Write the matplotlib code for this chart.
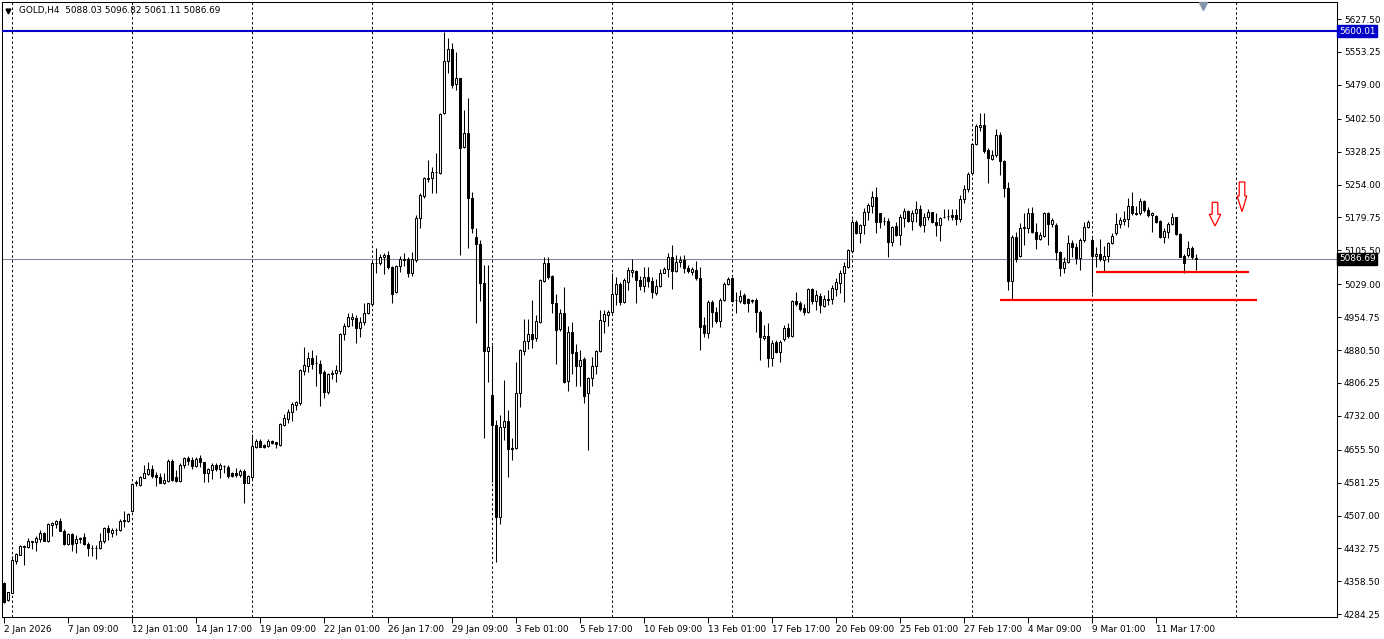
import matplotlib
matplotlib.use('Agg')
import matplotlib.pyplot as plt
import matplotlib.transforms as mtransforms
from matplotlib.patches import Polygon

# GOLD H4 candles
opens = [
    4354.0, 4315.7, 4332.9, 4405.2, 4418.7, 4436.8, 4436.8, 4446.5, 4448.0, 4454.8,
    4466.9, 4450.3, 4486.4, 4488.7, 4494.7, 4472.9, 4442.8, 4465.3, 4444.3, 4453.3,
    4457.8, 4442.8, 4433.8, 4433.8, 4433.0, 4448.8, 4478.1, 4468.4, 4473.6, 4473.6,
    4493.9, 4495.4, 4518.0, 4579.6, 4575.9, 4592.4, 4599.9, 4611.2, 4598.5, 4593.2,
    4581.2, 4585.7, 4630.8, 4594.7, 4585.7, 4621.0, 4636.1, 4632.3, 4618.8, 4636.1,
    4627.0, 4602.2, 4609.7, 4621.8, 4612.0, 4618.0, 4615.8, 4602.2, 4603.7, 4598.5,
    4608.2, 4581.2, 4594.8, 4661.0, 4676.0, 4666.2, 4664.7, 4676.0, 4672.2, 4666.2,
    4712.1, 4725.7, 4739.9, 4757.2, 4760.3, 4834.0, 4844.5, 4861.8, 4851.3, 4849.0,
    4831.7, 4786.6, 4826.4, 4827.9, 4834.0, 4916.7, 4934.8, 4951.3, 4952.8, 4929.5,
    4943.8, 4964.9, 4984.4, 5077.0, 5076.2, 5089.7, 5095.0, 5067.2, 5012.3, 5070.2,
    5084.5, 5085.2, 5053.6, 5083.7, 5177.7, 5228.9, 5267.3, 5268.0, 5282.3, 5280.8,
    5416.2, 5532.8, 5559.1, 5480.9, 5493.7, 5338.0, 5369.6, 5222.9, 5136.4, 5119.8,
    5031.0, 4879.0, 4779.0, 4711.3, 4504.5, 4706.0, 4720.3, 4660.2, 4660.2, 4782.8,
    4879.0, 4901.6, 4915.9, 4906.9, 4944.5, 5037.0, 5076.1, 5047.5, 4985.9, 4927.2,
    4963.3, 4811.3, 4920.4, 4875.3, 4845.2, 4859.5, 4782.8, 4816.6, 4845.2, 4878.3,
    4946.0, 4960.3, 4965.6, 5007.0, 5029.5, 4989.7, 5034.8, 5057.4, 5058.9, 5038.6,
    5025.0, 5044.6, 5037.1, 5010.0, 5025.0, 5055.1, 5062.6, 5091.2, 5059.6, 5079.9,
    5083.7, 5064.9, 5057.4, 5061.1, 5042.3, 4937.0, 4919.7, 4989.7, 4967.1, 4946.8,
    4993.4, 5029.5, 5042.3, 4992.7, 4991.9, 5004.7, 4994.9, 4990.4, 4993.4, 4967.1,
    4908.4, 4912.2, 4861.8, 4899.4, 4876.8, 4904.7, 4929.5, 4912.2, 4991.9, 4987.4,
    4974.6, 4967.1, 5017.5, 4991.9, 5003.2, 4980.7, 4993.4, 4995.7, 5017.5, 5032.6,
    5053.6, 5068.7, 5104.8, 5170.2, 5143.9, 5162.7, 5191.3, 5206.3, 5225.1, 5189.0,
    5170.9, 5171.7, 5125.1, 5160.4, 5140.1, 5177.7, 5193.5, 5172.5, 5189.0, 5199.5,
    5162.7, 5181.5, 5191.3, 5170.2, 5162.7, 5180.7, 5182.2, 5184.5, 5184.5, 5175.5,
    5220.6, 5243.2, 5279.2, 5345.4, 5384.5, 5388.3, 5331.9, 5311.6, 5320.6, 5365.7,
    5307.8, 5245.4, 5037.0, 5136.3, 5092.7, 5155.1, 5156.6, 5188.9, 5146.1, 5130.3,
    5138.6, 5188.9, 5164.9, 5162.6, 5100.9, 5066.3, 5079.9, 5122.8, 5113.7, 5088.9,
    5128.8, 5158.9, 5128.8, 5092.7, 5096.5, 5083.7, 5092.7, 5122.8, 5143.9, 5164.2,
    5172.5, 5175.5, 5205.6, 5187.5, 5189.0, 5217.6, 5196.5, 5185.3, 5183.0, 5172.5,
    5134.9, 5147.6, 5164.9, 5180.0, 5142.4, 5092.7, 5095.0, 5110.0, 5088.03,
]
highs = [
    4356.3, 4335.2, 4415.0, 4423.2, 4439.8, 4440.5, 4455.6, 4450.3, 4460.8, 4474.4,
    4470.6, 4489.4, 4493.2, 4496.9, 4500.7, 4475.9, 4466.9, 4466.9, 4462.3, 4459.3,
    4466.9, 4448.0, 4440.5, 4440.5, 4466.9, 4480.4, 4485.7, 4478.1, 4478.1, 4499.2,
    4517.3, 4512.0, 4581.2, 4587.2, 4596.2, 4621.0, 4628.5, 4621.0, 4606.0, 4603.7,
    4602.2, 4633.8, 4633.8, 4609.7, 4624.8, 4639.8, 4641.3, 4638.3, 4638.3, 4643.6,
    4628.5, 4613.5, 4624.8, 4624.8, 4624.8, 4621.8, 4621.0, 4606.0, 4613.5, 4611.2,
    4611.2, 4598.5, 4691.0, 4679.0, 4679.0, 4668.5, 4679.0, 4678.3, 4673.7, 4716.6,
    4736.2, 4746.7, 4764.0, 4766.3, 4837.0, 4886.6, 4876.1, 4880.6, 4868.6, 4858.0,
    4835.5, 4829.5, 4835.5, 4846.8, 4919.7, 4940.8, 4964.9, 4964.9, 4959.6, 4954.3,
    4985.9, 4987.4, 5082.2, 5110.0, 5097.3, 5098.8, 5104.8, 5070.2, 5072.4, 5092.7,
    5098.8, 5089.7, 5102.5, 5185.3, 5234.2, 5271.8, 5309.4, 5294.3, 5324.4, 5416.2,
    5598.0, 5583.9, 5572.6, 5553.8, 5495.2, 5422.2, 5448.5, 5237.9, 5155.2, 5128.8,
    5072.3, 5072.3, 4891.8, 4722.6, 4733.9, 4812.8, 4745.1, 4681.2, 4854.2, 4882.0,
    4950.5, 4950.5, 4993.4, 4959.5, 5040.0, 5089.7, 5089.7, 5049.8, 5006.9, 4972.3,
    5023.5, 4934.7, 4943.0, 4894.1, 4880.5, 4865.5, 4820.4, 4865.5, 4880.5, 4970.8,
    4970.8, 4970.8, 5053.6, 5046.1, 5034.8, 5042.3, 5067.2, 5085.2, 5061.1, 5047.6,
    5068.7, 5068.7, 5046.1, 5040.1, 5062.6, 5067.2, 5098.7, 5117.6, 5095.0, 5092.7,
    5095.0, 5072.4, 5067.2, 5082.2, 5068.7, 4955.8, 4993.4, 4993.4, 4976.9, 4997.2,
    5034.8, 5046.1, 5044.6, 5012.2, 5016.0, 5010.0, 4997.2, 4994.9, 4997.2, 4970.9,
    4937.0, 4942.3, 4903.2, 4903.2, 4903.2, 4937.0, 4940.8, 4993.4, 5012.2, 4991.9,
    4984.4, 5019.8, 5019.8, 5016.0, 5008.5, 5004.7, 5016.0, 5027.3, 5042.3, 5061.1,
    5079.9, 5107.8, 5175.5, 5174.0, 5164.9, 5200.3, 5211.6, 5240.2, 5247.7, 5190.5,
    5181.5, 5177.7, 5160.4, 5170.2, 5187.5, 5200.3, 5196.5, 5196.5, 5217.6, 5207.8,
    5189.0, 5198.0, 5192.8, 5189.0, 5181.5, 5198.0, 5198.0, 5198.0, 5198.0, 5230.4,
    5253.0, 5283.0, 5346.9, 5390.5, 5416.1, 5414.6, 5335.6, 5331.9, 5378.5, 5373.2,
    5309.3, 5260.4, 5140.1, 5147.6, 5166.4, 5188.9, 5201.7, 5204.0, 5167.9, 5147.6,
    5192.7, 5192.7, 5177.7, 5166.4, 5104.7, 5091.2, 5140.1, 5128.8, 5121.3, 5132.5,
    5170.1, 5173.9, 5132.6, 5113.8, 5130.3, 5115.3, 5125.1, 5143.9, 5189.0, 5181.5,
    5195.0, 5222.9, 5237.9, 5205.6, 5222.9, 5219.1, 5202.6, 5192.8, 5185.3, 5174.0,
    5155.0, 5170.2, 5190.5, 5181.5, 5143.9, 5097.2, 5127.3, 5115.3, 5096.82,
]
lows = [
    4310.4, 4314.1, 4331.5, 4396.9, 4417.2, 4395.4, 4433.0, 4430.7, 4427.7, 4447.3,
    4448.8, 4448.0, 4461.6, 4478.1, 4471.4, 4439.8, 4440.5, 4427.7, 4423.2, 4445.8,
    4439.8, 4415.7, 4415.7, 4408.2, 4430.7, 4445.8, 4452.6, 4457.8, 4463.1, 4472.9,
    4481.9, 4493.2, 4515.7, 4573.6, 4573.6, 4590.9, 4598.5, 4590.9, 4573.6, 4579.6,
    4578.1, 4583.4, 4584.9, 4583.4, 4583.4, 4613.5, 4621.0, 4611.2, 4615.8, 4617.3,
    4583.4, 4583.4, 4588.7, 4608.2, 4590.9, 4602.2, 4590.9, 4593.2, 4594.7, 4594.7,
    4534.5, 4579.6, 4588.7, 4658.7, 4661.0, 4659.5, 4662.5, 4667.7, 4658.7, 4664.0,
    4709.1, 4715.1, 4721.1, 4745.2, 4757.2, 4823.4, 4830.9, 4838.5, 4799.4, 4754.2,
    4771.5, 4781.3, 4814.4, 4809.1, 4826.4, 4903.2, 4931.8, 4934.8, 4897.1, 4910.7,
    4937.0, 4961.8, 4979.9, 5053.6, 5072.4, 5052.1, 5062.7, 4987.4, 5010.0, 5057.4,
    5070.2, 5044.6, 5047.6, 5080.0, 5155.2, 5222.9, 5260.5, 5235.7, 5234.2, 5277.8,
    5413.2, 5504.9, 5471.1, 5467.3, 5095.0, 5335.7, 5110.0, 5143.9, 4940.8, 4992.0,
    4681.2, 4809.1, 4583.4, 4402.9, 4487.9, 4677.4, 4594.7, 4632.3, 4656.4, 4751.2,
    4869.2, 4882.0, 4884.3, 4901.6, 4940.7, 5034.0, 5040.0, 4964.8, 4849.0, 4924.2,
    4805.3, 4788.8, 4826.4, 4800.1, 4800.1, 4760.2, 4654.9, 4800.1, 4826.4, 4875.3,
    4919.7, 4934.7, 4959.6, 4982.2, 4982.2, 4987.4, 5016.0, 5046.1, 4985.9, 5016.0,
    5012.2, 5023.5, 4997.2, 5004.7, 5022.0, 5053.6, 5046.1, 5017.5, 5057.4, 5067.2,
    5053.6, 5053.6, 5049.8, 5038.6, 4880.6, 4909.2, 4906.9, 4933.3, 4940.8, 4933.3,
    4991.9, 5027.3, 4989.7, 4963.4, 4987.4, 4984.4, 4967.1, 4987.4, 4922.0, 4858.0,
    4903.2, 4843.0, 4844.5, 4874.6, 4854.3, 4901.7, 4906.9, 4910.7, 4979.9, 4969.4,
    4959.6, 4964.8, 4984.4, 4970.9, 4963.4, 4978.4, 4982.2, 4984.4, 5002.5, 5010.0,
    4989.7, 5064.9, 5100.3, 5142.4, 5121.3, 5142.4, 5174.0, 5189.0, 5145.4, 5155.2,
    5162.7, 5091.2, 5115.3, 5137.9, 5117.6, 5158.9, 5170.2, 5151.4, 5170.2, 5158.9,
    5147.6, 5174.0, 5168.0, 5137.9, 5127.3, 5177.7, 5174.0, 5174.0, 5162.7, 5170.2,
    5211.6, 5237.9, 5275.5, 5343.1, 5375.5, 5324.4, 5258.2, 5309.3, 5316.8, 5275.5,
    5225.1, 5016.0, 4994.9, 5079.9, 5091.2, 5117.5, 5145.3, 5143.9, 5107.7, 5128.8,
    5136.3, 5117.5, 5158.9, 5083.6, 5047.5, 5055.1, 5076.1, 5091.2, 5073.9, 5061.1,
    5125.0, 5155.1, 5008.5, 5068.7, 5082.2, 5059.6, 5079.9, 5119.8, 5140.1, 5155.2,
    5162.7, 5158.9, 5185.3, 5185.3, 5185.3, 5192.8, 5181.5, 5147.6, 5166.4, 5134.0,
    5121.3, 5132.6, 5162.7, 5140.1, 5089.7, 5053.6, 5091.2, 5085.2, 5061.11,
]
closes = [
    4312.6, 4333.7, 4406.7, 4419.5, 4438.3, 4439.0, 4449.5, 4449.5, 4456.3, 4466.9,
    4450.3, 4487.2, 4489.4, 4494.7, 4472.9, 4442.8, 4465.3, 4443.5, 4453.3, 4456.3,
    4442.0, 4433.0, 4434.5, 4434.5, 4448.8, 4478.1, 4469.1, 4474.4, 4474.4, 4494.7,
    4496.9, 4509.7, 4578.1, 4581.9, 4593.2, 4602.2, 4611.2, 4596.2, 4593.2, 4581.2,
    4587.2, 4630.8, 4587.2, 4585.7, 4621.0, 4636.1, 4630.8, 4618.8, 4633.8, 4627.0,
    4602.2, 4611.2, 4621.8, 4611.2, 4621.0, 4618.8, 4596.2, 4596.2, 4598.5, 4608.2,
    4581.2, 4596.2, 4664.0, 4676.0, 4662.5, 4662.5, 4676.0, 4670.0, 4667.7, 4712.9,
    4726.4, 4740.7, 4758.0, 4763.3, 4835.5, 4846.0, 4861.8, 4849.0, 4850.5, 4829.5,
    4786.6, 4826.4, 4827.9, 4835.5, 4916.7, 4934.8, 4954.3, 4954.3, 4929.5, 4943.8,
    4964.9, 4985.9, 5077.7, 5077.7, 5089.7, 5095.0, 5067.2, 5007.0, 5070.2, 5085.2,
    5085.2, 5053.6, 5085.2, 5177.7, 5230.4, 5268.0, 5268.0, 5283.1, 5283.1, 5412.4,
    5532.8, 5559.1, 5478.6, 5493.7, 5335.7, 5371.1, 5222.9, 5155.2, 5119.8, 5031.0,
    4879.0, 4888.1, 4711.3, 4503.0, 4706.0, 4720.3, 4656.4, 4656.4, 4782.8, 4880.5,
    4900.9, 4915.9, 4906.1, 4946.0, 5038.5, 5076.1, 5046.0, 4985.9, 4925.7, 4963.3,
    4809.1, 4920.4, 4874.5, 4845.2, 4858.0, 4777.5, 4816.6, 4845.2, 4878.3, 4948.2,
    4961.0, 4965.5, 5007.0, 5029.5, 4989.7, 5038.6, 5061.1, 5061.1, 5038.6, 5025.0,
    5044.6, 5037.1, 5010.7, 5025.0, 5055.1, 5062.6, 5091.2, 5059.6, 5079.9, 5083.7,
    5064.9, 5059.6, 5062.6, 5042.3, 4933.3, 4919.7, 4989.7, 4967.1, 4946.8, 4993.4,
    5029.5, 5040.1, 4991.9, 4993.4, 5003.2, 4987.4, 4985.9, 4993.4, 4967.1, 4909.2,
    4912.9, 4861.8, 4897.2, 4876.8, 4899.4, 4929.5, 4912.2, 4991.9, 4984.4, 4972.4,
    4967.1, 5017.5, 4991.9, 5004.7, 4982.2, 4995.7, 4995.7, 5019.8, 5034.8, 5053.6,
    5070.2, 5106.3, 5170.2, 5143.9, 5162.7, 5191.3, 5207.8, 5225.1, 5170.2, 5170.2,
    5171.7, 5125.1, 5157.4, 5140.1, 5180.0, 5193.5, 5172.5, 5190.5, 5199.5, 5162.7,
    5181.5, 5191.3, 5170.2, 5162.7, 5177.7, 5181.5, 5183.0, 5180.0, 5175.5, 5220.6,
    5243.2, 5277.8, 5344.4, 5386.0, 5388.3, 5330.4, 5313.1, 5320.6, 5365.7, 5307.8,
    5245.4, 5037.0, 5136.3, 5085.2, 5155.1, 5158.9, 5188.9, 5146.1, 5131.0, 5140.1,
    5188.9, 5164.9, 5173.9, 5100.9, 5066.3, 5079.9, 5122.8, 5113.7, 5088.9, 5128.8,
    5158.9, 5170.1, 5092.7, 5096.5, 5085.2, 5092.7, 5122.8, 5137.9, 5164.9, 5174.0,
    5175.5, 5205.6, 5189.0, 5190.5, 5217.6, 5196.5, 5184.5, 5189.0, 5170.2, 5136.4,
    5149.9, 5164.9, 5180.0, 5142.4, 5091.2, 5077.7, 5110.0, 5089.7, 5086.69,
]

time_labels = ['2 Jan 2026', '7 Jan 09:00', '12 Jan 01:00', '14 Jan 17:00',
               '19 Jan 09:00', '22 Jan 01:00', '26 Jan 17:00', '29 Jan 09:00',
               '3 Feb 01:00', '5 Feb 17:00', '10 Feb 09:00', '13 Feb 01:00',
               '17 Feb 17:00', '20 Feb 09:00', '25 Feb 01:00', '27 Feb 17:00',
               '4 Mar 09:00', '9 Mar 01:00', '11 Mar 17:00']
price_levels = [5627.50, 5553.25, 5479.00, 5402.50, 5328.25, 5254.00, 5179.75,
                5105.50, 5029.00, 4954.75, 4880.50, 4806.25, 4732.00, 4655.50,
                4581.25, 4507.00, 4432.75, 4358.50, 4284.25]
grid_bars = [2, 32, 62, 92, 122, 152, 182, 212, 242, 272, 308]

resistance = 5600.01
last_price = 5086.69
support_hi = 5057.4   # short red line
support_lo = 4994.2   # long red line

FS = 6.4
BLUE = '#0000c8'

fig = plt.figure(figsize=(13.84, 6.39), dpi=100)
fig.patch.set_facecolor('white')
ax = fig.add_axes([2 / 1384, 22 / 639, 1335 / 1384, 615 / 639])
ax.set_xlim(-0.5, 333.25)
ax.set_ylim(4278.0, 5665.9)

# grid (vertical dotted only)
for g in grid_bars:
    ax.axvline(g, color='black', lw=0.7, ls=(0, (2.5, 2.5)), zorder=1)

# candles
idx = list(range(len(closes)))
body_low = [min(o, c) for o, c in zip(opens, closes)]
body_h = [abs(c - o) for o, c in zip(opens, closes)]
faces = ['white' if c >= o else 'black' for o, c in zip(opens, closes)]
ax.vlines(idx, lows, highs, color='black', lw=0.75, zorder=2)
ax.bar(idx, body_h, bottom=body_low, width=0.55, color=faces,
       edgecolor='black', linewidth=0.75, zorder=3)

# price lines
ax.axhline(resistance, color=BLUE, lw=1.5, zorder=4)
ax.axhline(last_price, color='#7a8899', lw=0.75, zorder=1.5)
ax.hlines(support_hi, 273, 311.25, color='red', lw=1.6, zorder=4)
ax.hlines(support_lo, 249, 313.2, color='red', lw=1.6, zorder=4)


def down_arrow(xc, y_top, y_neck, y_tip, shaft_hw, head_hw):
    pts = [(xc - shaft_hw, y_top), (xc + shaft_hw, y_top), (xc + shaft_hw, y_neck),
           (xc + head_hw, y_neck), (xc, y_tip), (xc - head_hw, y_neck),
           (xc - shaft_hw, y_neck)]
    ax.add_patch(Polygon(pts, closed=True, fc='white', ec='red', lw=0.9, zorder=5))


down_arrow(302.75, 5213.9, 5186.8, 5160.4, 0.7, 1.45)
down_arrow(309.5, 5259.7, 5228.1, 5192.7, 0.7, 1.2)

# axes look
for s in ax.spines.values():
    s.set_linewidth(0.75)
    s.set_color('black')

ax.yaxis.tick_right()
ax.set_yticks(price_levels)
ax.set_yticklabels([f'{v:.2f}' for v in price_levels])
ax.tick_params(axis='y', direction='out', length=3, width=0.7, pad=2,
               labelsize=FS, colors='black')

ax.set_xticks([16 * k for k in range(len(time_labels))])
ax.set_xticklabels(time_labels)
for lab in ax.get_xticklabels():
    lab.set_horizontalalignment('left')
ax.tick_params(axis='x', direction='out', length=4, width=0.7, pad=2,
               labelsize=FS, colors='black')

# right-side price tags
trans = mtransforms.blended_transform_factory(ax.transAxes, ax.transData)
ax.text(1.0015, resistance, '5600.01', transform=trans, ha='left', va='center',
        color='white', fontsize=FS, zorder=10, clip_on=False,
        bbox=dict(boxstyle='square,pad=0.18', fc=BLUE, ec=BLUE))
ax.text(1.0015, last_price, '5086.69', transform=trans, ha='left', va='center',
        color='white', fontsize=FS, zorder=10, clip_on=False,
        bbox=dict(boxstyle='square,pad=0.18', fc='black', ec='black'))

# chart shift marker
ax.plot([(1203 - 2) / 1335], [1 - 4 / 615], marker='v', ms=5.5, color='#8294a8',
        transform=ax.transAxes, clip_on=False, zorder=6)

# header
ax.plot([6 / 1335], [1 - 9 / 615], marker='v', ms=3.5, color='black',
        transform=ax.transAxes, clip_on=False, zorder=6)
ax.text(17 / 1335, 1 - 9 / 615, 'GOLD,H4  5088.03 5096.82 5061.11 5086.69',
        transform=ax.transAxes, ha='left', va='center', fontsize=FS, zorder=6)

fig.savefig('out.png', dpi=100, facecolor='white')
